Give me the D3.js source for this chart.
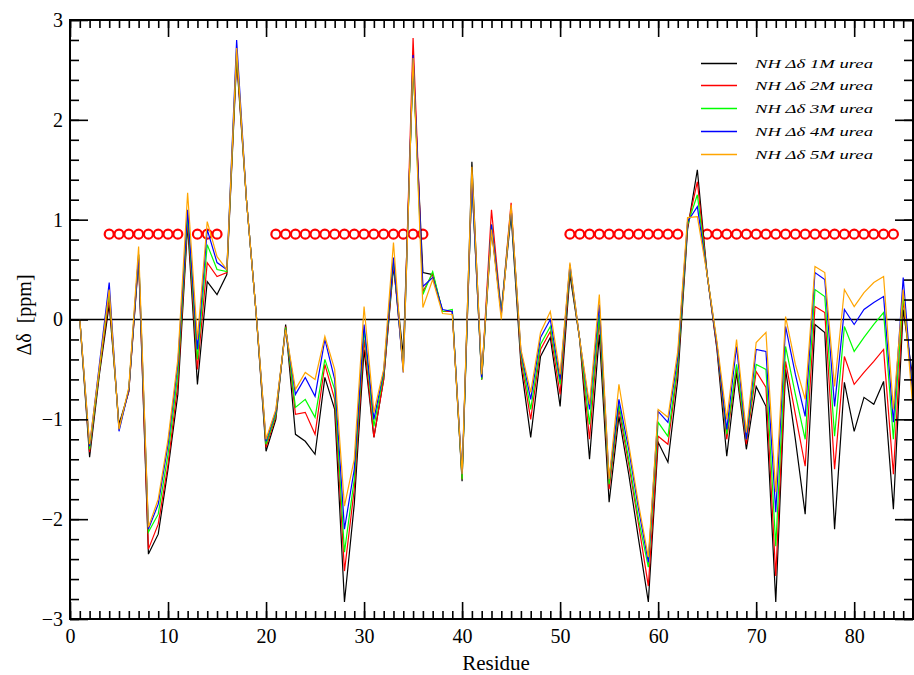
<!DOCTYPE html>
<html>
<head>
<meta charset="utf-8">
<script src="https://cdn.jsdelivr.net/npm/d3@7"></script>
<style>
  body { margin: 0; background: #fff; }
  svg { display: block; }
  text { font-family: "Liberation Serif", "Times New Roman", serif; }
</style>
</head>
<body>
<svg id="chart" width="914" height="675"></svg>
<script>
// ---------- data ----------
const residues = d3.range(1, 87);
const seriesNames = ["NH \u0394\u03b4 1M urea", "NH \u0394\u03b4 2M urea", "NH \u0394\u03b4 3M urea", "NH \u0394\u03b4 4M urea", "NH \u0394\u03b4 5M urea"];
const seriesColors = ["#000000", "#ff0000", "#00ff00", "#0000ff", "#ffa500"];

const urea1M = [0, -1.38, -0.55, 0.15, -1.05, -0.72, 0.6, -2.35, -2.15, -1.5,
  -0.75, 0.95, -0.65, 0.38, 0.25, 0.45, 2.6, 1.2, 0.05, -1.32,
  -1.0, -0.05, -1.15, -1.22, -1.35, -0.58, -0.9, -2.83, -1.85, -0.3,
  -1.18, -0.6, 0.53, -0.35, 2.55, 0.47, 0.45, 0.08, 0.08, -1.62,
  1.58, -0.6, 0.9, 0.07, 1.05, -0.45, -1.18, -0.37, -0.18, -0.87,
  0.45, -0.2, -1.4, -0.15, -1.83, -0.97, -1.55, -2.2, -2.83, -1.23,
  -1.43, -0.6, 0.9, 1.5, 0.45, -0.3, -1.37, -0.53, -1.3, -0.67,
  -0.87, -2.83, -0.5, -1.2, -1.95, -0.05, -0.13, -2.1, -0.63, -1.12,
  -0.78, -0.85, -0.62, -1.9, 0.1, -0.6];
const urea2M = [0, -1.33, -0.52, 0.22, -1.08, -0.72, 0.62, -2.3, -2.05, -1.45,
  -0.65, 1.0, -0.5, 0.57, 0.43, 0.47, 2.65, 1.2, 0.05, -1.28,
  -0.97, -0.07, -0.95, -0.93, -1.15, -0.45, -0.8, -2.52, -1.7, -0.2,
  -1.18, -0.6, 0.57, -0.5, 2.82, 0.28, 0.46, 0.08, 0.08, -1.6,
  1.4, -0.6, 1.1, 0.07, 1.17, -0.4, -1.0, -0.3, -0.12, -0.75,
  0.5, -0.2, -1.2, 0.0, -1.7, -0.9, -1.45, -2.05, -2.67, -1.17,
  -1.25, -0.5, 0.93, 1.38, 0.45, -0.28, -1.2, -0.48, -1.25, -0.52,
  -0.68, -2.57, -0.42, -0.95, -1.47, 0.13, 0.07, -1.5, -0.37, -0.65,
  -0.53, -0.42, -0.3, -1.55, 0.2, -0.7];
const urea3M = [0, -1.3, -0.5, 0.28, -1.1, -0.7, 0.65, -2.13, -1.95, -1.35,
  -0.55, 1.05, -0.4, 0.75, 0.5, 0.48, 2.7, 1.2, 0.05, -1.25,
  -0.95, -0.08, -0.88, -0.8, -0.98, -0.4, -0.7, -2.33, -1.6, -0.1,
  -1.07, -0.55, 0.6, -0.5, 2.6, 0.25, 0.48, 0.08, 0.1, -1.6,
  1.4, -0.6, 0.95, 0.07, 1.12, -0.35, -0.9, -0.25, -0.07, -0.65,
  0.52, -0.2, -1.05, 0.05, -1.65, -0.85, -1.4, -2.0, -2.48, -1.03,
  -1.17, -0.45, 0.95, 1.25, 0.45, -0.25, -1.15, -0.45, -1.2, -0.45,
  -0.5, -2.27, -0.27, -0.75, -1.2, 0.3, 0.23, -1.17, -0.07, -0.32,
  -0.18, -0.05, 0.07, -1.2, 0.25, -0.75];
const urea4M = [0, -1.27, -0.45, 0.37, -1.12, -0.7, 0.65, -2.1, -1.85, -1.25,
  -0.45, 1.1, -0.3, 0.9, 0.57, 0.5, 2.8, 1.2, 0.05, -1.22,
  -0.92, -0.1, -0.75, -0.58, -0.77, -0.2, -0.6, -2.1, -1.5, -0.05,
  -1.0, -0.52, 0.62, -0.53, 2.65, 0.33, 0.42, 0.1, 0.08, -1.55,
  1.4, -0.58, 0.95, 0.05, 1.12, -0.32, -0.8, -0.18, 0.0, -0.6,
  0.55, -0.2, -0.9, 0.15, -1.6, -0.8, -1.3, -1.9, -2.43, -0.92,
  -1.03, -0.38, 0.98, 1.13, 0.45, -0.25, -1.1, -0.27, -1.2, -0.3,
  -0.32, -1.93, -0.07, -0.55, -0.97, 0.47, 0.4, -0.87, 0.1, -0.05,
  0.1, 0.17, 0.23, -1.03, 0.42, -0.8];
const urea5M = [0, -1.25, -0.48, 0.3, -1.1, -0.68, 0.73, -2.08, -1.8, -1.2,
  -0.4, 1.27, -0.2, 0.98, 0.63, 0.5, 2.72, 1.2, 0.05, -1.2,
  -0.9, -0.1, -0.7, -0.53, -0.6, -0.17, -0.5, -1.87, -1.4, 0.13,
  -0.93, -0.5, 0.77, -0.53, 2.62, 0.12, 0.4, 0.06, 0.05, -1.55,
  1.53, -0.55, 0.9, 0.0, 1.15, -0.3, -0.73, -0.13, 0.08, -0.55,
  0.57, -0.2, -0.85, 0.25, -1.6, -0.65, -1.25, -1.85, -2.38, -0.9,
  -0.98, -0.32, 1.02, 1.03, 0.45, -0.22, -1.0, -0.2, -1.13, -0.23,
  -0.13, -1.73, 0.03, -0.45, -0.8, 0.53, 0.47, -0.67, 0.3, 0.13,
  0.27, 0.37, 0.43, -0.9, 0.3, -0.9];
const seriesValues = [urea1M, urea2M, urea3M, urea4M, urea5M];

// residues flagged with circle markers (secondary structure)
const markerResidues = [4, 5, 6, 7, 8, 9, 10, 11, 13, 14, 15,
  21, 22, 23, 24, 25, 26, 27, 28, 29, 30, 31, 32, 33, 34, 35, 36,
  51, 52, 53, 54, 55, 56, 57, 58, 59, 60, 61, 62,
  65, 66, 67, 68, 69, 70, 71, 72, 73, 74, 75, 76, 77, 78, 79, 80, 81, 82, 83, 84];
const markerLevel = 0.855;

const xTicks = [0, 10, 20, 30, 40, 50, 60, 70, 80];
const yTicks = [-3, -2, -1, 0, 1, 2, 3];
const xLabel = "Residue";
const yLabel = "\u0394\u03b4  [ppm]";

// ---------- layout ----------
const svg = d3.select("#chart");
const L = 70, R = 913, T = 20, B = 619;
const x = d3.scaleLinear().domain([0, 86]).range([L, R]);
const y = d3.scaleLinear().domain([-3, 3]).range([B, T]);

svg.append("defs").append("clipPath").attr("id", "clip")
  .append("rect").attr("x", L).attr("y", T).attr("width", R - L).attr("height", B - T);

// zero line
svg.append("line")
  .attr("x1", L).attr("x2", R).attr("y1", y(0)).attr("y2", y(0))
  .attr("stroke", "#000").attr("stroke-width", 1.5);

// markers
svg.append("g").selectAll("circle").data(markerResidues).join("circle")
  .attr("cx", d => x(d)).attr("cy", y(markerLevel)).attr("r", 4.5)
  .attr("fill", "none").attr("stroke", "#ff0000").attr("stroke-width", 2.2);

// lines
const gLines = svg.append("g").attr("clip-path", "url(#clip)");
seriesValues.forEach((vals, i) => {
  const line = d3.line().x((d, j) => x(residues[j])).y(d => y(d));
  gLines.append("path").datum(vals)
    .attr("d", line)
    .attr("fill", "none")
    .attr("stroke", seriesColors[i])
    .attr("stroke-width", 1.2)
    .attr("stroke-linejoin", "miter");
});

// axes
function styleAxis(g) {
  g.select(".domain").remove();
  g.selectAll(".tick line").attr("stroke", "#000").attr("stroke-width", 1.6);
  g.selectAll("text").attr("font-size", 20).attr("fill", "#000")
    .style("font-family", "'Liberation Serif', 'Times New Roman', serif");
}
const xMinor = d3.range(0, 87, 1);
const yMinor = d3.range(-3, 3.001, 0.2).map(v => +v.toFixed(2));

svg.append("g").attr("transform", `translate(0,${B})`)
  .call(d3.axisBottom(x).tickValues(xMinor).tickSize(-8).tickFormat(""))
  .call(styleAxis);
svg.append("g").attr("transform", `translate(0,${B})`)
  .call(d3.axisBottom(x).tickValues(xTicks).tickSize(-17).tickPadding(10).tickFormat(d3.format("d")))
  .call(styleAxis);
svg.append("g").attr("transform", `translate(0,${T})`)
  .call(d3.axisTop(x).tickValues(xMinor).tickSize(-8).tickFormat(""))
  .call(styleAxis);
svg.append("g").attr("transform", `translate(0,${T})`)
  .call(d3.axisTop(x).tickValues(xTicks).tickSize(-17).tickFormat(""))
  .call(styleAxis);
svg.append("g").attr("transform", `translate(${L},0)`)
  .call(d3.axisLeft(y).tickValues(yMinor).tickSize(-9).tickFormat(""))
  .call(styleAxis);
svg.append("g").attr("transform", `translate(${L},0)`)
  .call(d3.axisLeft(y).tickValues(yTicks).tickSize(-18).tickPadding(7).tickFormat(d3.format("d")))
  .call(styleAxis);
svg.append("g").attr("transform", `translate(${R},0)`)
  .call(d3.axisRight(y).tickValues(yMinor).tickSize(-9).tickFormat(""))
  .call(styleAxis);
svg.append("g").attr("transform", `translate(${R},0)`)
  .call(d3.axisRight(y).tickValues(yTicks).tickSize(-18).tickFormat(""))
  .call(styleAxis);

// frame
svg.append("rect").attr("x", L).attr("y", T).attr("width", R - L).attr("height", B - T)
  .attr("fill", "none").attr("stroke", "#000").attr("stroke-width", 2);

// axis titles
svg.append("text").attr("x", 496).attr("y", 670).attr("text-anchor", "middle")
  .attr("font-size", 21).text(xLabel);
svg.append("text").attr("transform", "translate(31,315) rotate(-90)")
  .attr("text-anchor", "middle").attr("font-size", 20)
  .attr("xml:space", "preserve").style("white-space", "pre").text(yLabel);

// legend
const legend = svg.append("g");
const legendY = [63, 85, 108, 131, 154];
seriesNames.forEach((name, i) => {
  legend.append("line").attr("x1", 701).attr("x2", 737)
    .attr("y1", legendY[i] + 0.5).attr("y2", legendY[i] + 0.5)
    .attr("stroke", seriesColors[i]).attr("stroke-width", 1.5);
  legend.append("text").attr("x", 755).attr("y", legendY[i] + 5)
    .attr("font-size", 13.5).attr("font-style", "italic").attr("fill", "#000")
    .attr("textLength", 118).attr("lengthAdjust", "spacingAndGlyphs")
    .text(name);
});
</script>
</body>
</html>
